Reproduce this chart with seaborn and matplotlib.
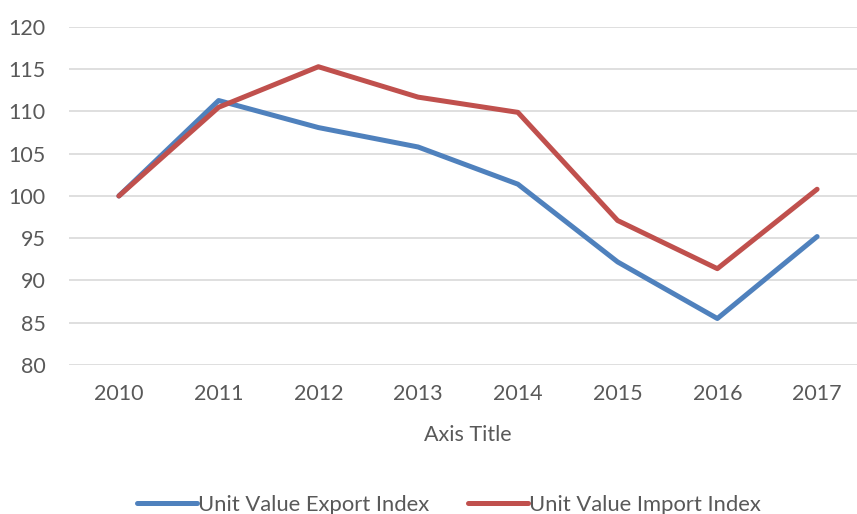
import matplotlib
matplotlib.use("Agg")
import matplotlib.pyplot as plt
import seaborn as sns
import pandas as pd

years = [2010, 2011, 2012, 2013, 2014, 2015, 2016, 2017]
export_index = [100.0, 111.3, 108.1, 105.8, 101.4, 92.2, 85.5, 95.2]
import_index = [100.0, 110.5, 115.3, 111.7, 109.9, 97.1, 91.4, 100.8]
series_names = ["Unit Value Export Index", "Unit Value Import Index"]
colors = ["#4F81BD", "#C0504D"]

sns.set_theme(style="white")
plt.rcParams["font.family"] = ["Lato", "DejaVu Sans"]

df = pd.DataFrame({
    "pos": list(range(len(years))) * 2,
    "value": export_index + import_index,
    "series": [series_names[0]] * len(years) + [series_names[1]] * len(years),
})

fig = plt.figure(figsize=(8.57, 5.14), dpi=100)
ax = fig.add_axes([69 / 857, 149 / 514, (857 - 69) / 857, (365 - 27) / 514])

sns.lineplot(data=df, x="pos", y="value", hue="series", palette=colors,
             linewidth=3.6, ax=ax, legend=True, solid_capstyle="round")

ax.set_xlim(-0.5, 7.4)
ax.set_ylim(80, 120)
ax.set_yticks(range(80, 121, 5))
ax.set_xticks(range(len(years)))
ax.set_xticklabels([str(y) for y in years])
ax.grid(axis="y", color="#D9D9D9", linewidth=1.2)
ax.set_axisbelow(True)
for s in ax.spines.values():
    s.set_visible(False)
ax.tick_params(axis="both", length=0, labelsize=15.5, labelcolor="#595959")
ax.tick_params(axis="y", pad=17)
ax.tick_params(axis="x", pad=14)
ax.set_ylabel("")
ax.set_xlabel("Axis Title", fontsize=15.5, color="#595959", va="center")
ax.xaxis.set_label_coords((468 - 69) / (857 - 69), -(435 - 365) / (365 - 27))

handles, labels = ax.get_legend_handles_labels()
ax.legend(handles, labels, loc="center", bbox_to_anchor=(449 / 857, 9 / 514),
          bbox_transform=fig.transFigure, ncol=2, frameon=False,
          fontsize=15.8, labelcolor="#595959", handlelength=2.7,
          handletextpad=0.05, columnspacing=1.8)

fig.savefig("out.png", dpi=100)
